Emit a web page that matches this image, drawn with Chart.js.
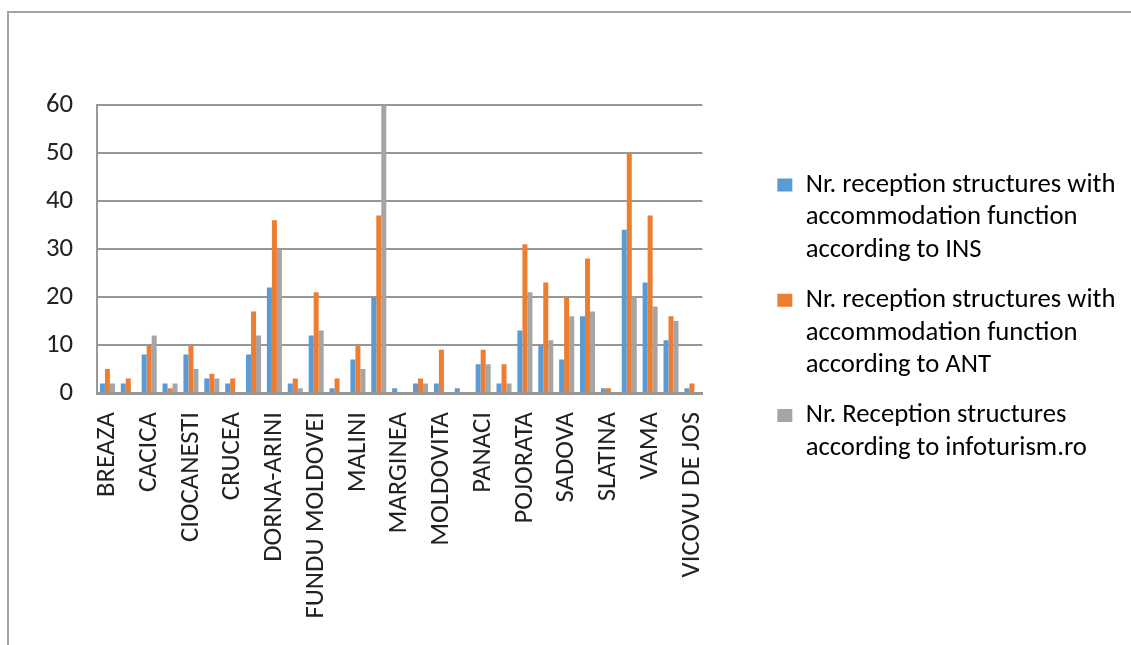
<!DOCTYPE html>
<html>
<head>
<meta charset="utf-8">
<script src="https://cdn.jsdelivr.net/npm/chart.js@4.4.1/dist/chart.umd.min.js"></script>
<style>
  html, body { margin: 0; padding: 0; background: #fff; overflow: hidden; }
  #frame { position: absolute; left: 7px; top: 11px; right: 0; bottom: 0;
           border-top: 2px solid #a3a3a3; border-left: 2px solid #a3a3a3; }
  #chart { position: absolute; left: 0; top: 0; }
</style>
</head>
<body>
<div id="frame"></div>
<canvas id="chart" width="1131" height="645"></canvas>
<script>
// communes (only every second name is printed on the axis, like the original)
const communes = [
  'BREAZA', 'BRODINA', 'CACICA', 'CARLIBABA', 'CIOCANESTI', 'COSNA', 'CRUCEA',
  'DORNA CANDRENILOR', 'DORNA-ARINI', 'FRUMOSU', 'FUNDU MOLDOVEI', 'IZVOARELE SUCEVEI',
  'MALINI', 'MANASTIREA HUMORULUI', 'MARGINEA', 'MOLDOVA-SULITA', 'MOLDOVITA', 'OSTRA',
  'PANACI', 'POIANA STAMPEI', 'POJORATA', 'PUTNA', 'SADOVA', 'SARU DORNEI', 'SLATINA',
  'SUCEVITA', 'VAMA', 'VATRA MOLDOVITEI', 'VICOVU DE JOS'
];

// Nr. reception structures with accommodation function according to INS
const insValues = [2, 2, 8, 2, 8, 3, 2, 8, 22, 2, 12, 1, 7, 20, 1, 2, 2, 1, 6, 2, 13, 10, 7, 16, 1, 34, 23, 11, 1];
// ... according to ANT
const antValues = [5, 3, 10, 1, 10, 4, 3, 17, 36, 3, 21, 3, 10, 37, 0, 3, 9, 0, 9, 6, 31, 23, 20, 28, 1, 50, 37, 16, 2];
// Nr. Reception structures according to infoturism.ro
const infoValues = [2, 0, 12, 2, 5, 3, 0, 12, 30, 1, 13, 0, 5, 60, 0, 2, 0, 0, 6, 2, 21, 11, 16, 17, 0, 20, 18, 15, 0];

const yTicks = [0, 10, 20, 30, 40, 50, 60];

const seriesNames = [
  ['Nr. reception structures with', 'accommodation function', 'according to INS'],
  ['Nr. reception structures with', 'accommodation function', 'according to ANT'],
  ['Nr. Reception structures', 'according to infoturism.ro']
];
const seriesColors = ['#5b9bd5', '#ed7d31', '#a5a5a5'];

const FONT = 'Calibri, Carlito, "Open Sans", sans-serif';
const textColor = '#222222';
const gridColor = '#979797';

const makeSet = (i, data) => ({
  label: seriesNames[i].join(' '),
  data: data,
  backgroundColor: seriesColors[i],
  borderWidth: 0,
  categoryPercentage: 0.72,
  barPercentage: 1
});

// empty axes, only used to reserve room around the plot
const spacer = (position, size) => ({
  type: 'linear',
  position: position,
  grid: { display: false, drawTicks: false },
  border: { display: false },
  ticks: { display: false },
  afterFit: s => {
    if (position === 'top') s.height = size; else s.width = size;
  }
});

new Chart(document.getElementById('chart'), {
  type: 'bar',
  data: {
    labels: communes,
    datasets: [
      makeSet(0, insValues),
      makeSet(1, antValues),
      makeSet(2, infoValues)
    ]
  },
  options: {
    responsive: false,
    animation: false,
    devicePixelRatio: 1,
    layout: {
      padding: { left: 46, top: 14, right: 5.5, bottom: 20 }
    },
    scales: {
      x: {
        grid: { display: false, drawTicks: false },
        border: { display: true, color: gridColor, width: 3 },
        ticks: {
          autoSkip: false,
          minRotation: 90,
          maxRotation: 90,
          padding: 19,
          color: textColor,
          font: { family: FONT, size: 26.7 },
          callback: function(value, index) {
            return index % 2 === 0 ? this.getLabelForValue(value) : '';
          }
        },
        afterFit: s => { s.height = 625 - 393; }
      },
      y: {
        min: 0,
        max: 60,
        afterBuildTicks: s => { s.ticks = yTicks.map(v => ({ value: v })); },
        grid: { color: gridColor, lineWidth: 2, drawTicks: false },
        border: { display: true, color: gridColor, width: 2 },
        ticks: {
          padding: 24,
          color: textColor,
          font: { family: FONT, size: 26.7 }
        },
        afterFit: s => { s.width = 51; }
      },
      topGap: spacer('top', 91),
      rightGap: spacer('right', 57.5)
    },
    plugins: {
      legend: {
        position: 'right',
        maxWidth: 500,
        labels: {
          boxWidth: 15,
          boxHeight: 13,
          padding: 17.5,
          color: textColor,
          font: { family: FONT, size: 26.7, lineHeight: 1.22 },
          generateLabels: chart => chart.data.datasets.map((ds, i) => ({
            text: seriesNames[i],
            fillStyle: ds.backgroundColor,
            strokeStyle: ds.backgroundColor,
            lineWidth: 0,
            hidden: false,
            datasetIndex: i
          }))
        }
      },
      tooltip: { enabled: false }
    }
  }
});
</script>
</body>
</html>
